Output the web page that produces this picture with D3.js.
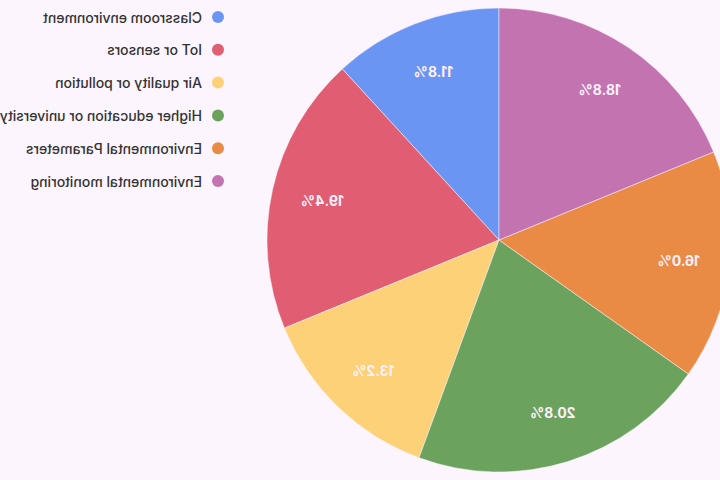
<!DOCTYPE html>
<html>
<head>
<meta charset="utf-8">
<script src="https://cdn.jsdelivr.net/npm/d3@7"></script>
<style>
html,body{margin:0;padding:0;background:#fdf5fd;}
svg{display:block;}
</style>
</head>
<body>
<svg id="chart" width="720" height="480"></svg>
<script>
const categories = ["Classroom environment","IoT or sensors","Air quality or pollution","Higher education or university","Environmental Parameters","Environmental monitoring"];
const values = [11.8, 19.4, 13.2, 20.8, 16.0, 18.8];
const colors = ["#6b95f3","#e05d72","#fdd177","#6aa25e","#ea8b45","#c473b1"];

const W = 720, H = 480;
const FONT = "Inter, 'Liberation Sans', Arial, sans-serif";
const svg = d3.select("#chart");
svg.append("rect").attr("width", W).attr("height", H).attr("fill", "#fdf5fd");
// reference is a horizontally mirrored rendering
const root = svg.append("g").attr("transform", `translate(${W},0) scale(-1,1)`);

const cx = 221, cy = 240, r = 232;
const data = categories.map((c, i) => ({cat: c, value: values[i], color: colors[i]}));
const pie = d3.pie().value(d => d.value).sort(null);
const arc = d3.arc().innerRadius(0).outerRadius(r);
const labelArc = d3.arc().innerRadius(r * 0.78).outerRadius(r * 0.78);
const arcs = pie(data);

const g = root.append("g").attr("transform", `translate(${cx},${cy})`);
g.selectAll("path").data(arcs).join("path")
  .attr("d", arc).attr("fill", d => d.data.color)
  .attr("stroke", "#fdf5fd").attr("stroke-width", 0.5);
g.selectAll("text").data(arcs).join("text")
  .attr("transform", d => `translate(${labelArc.centroid(d)})`)
  .attr("text-anchor", "middle").attr("dominant-baseline", "central")
  .attr("font-family", FONT)
  .attr("font-size", 14).attr("font-weight", "bold")
  .attr("fill", "#fdf0fc")
  .text(d => d.data.value.toFixed(1) + "%");

const y = d3.scalePoint().domain(categories).range([17, 181]);
const lg = root.append("g");
const item = lg.selectAll("g").data(data).join("g")
  .attr("transform", d => `translate(502,${y(d.cat)})`);
item.append("circle").attr("r", 6).attr("fill", d => d.color);
item.append("text").attr("x", 16).attr("dominant-baseline", "central")
  .attr("font-family", FONT)
  .attr("font-size", 14).attr("font-weight", 500).attr("fill", "#333")
  .text(d => d.cat);
</script>
</body>
</html>
